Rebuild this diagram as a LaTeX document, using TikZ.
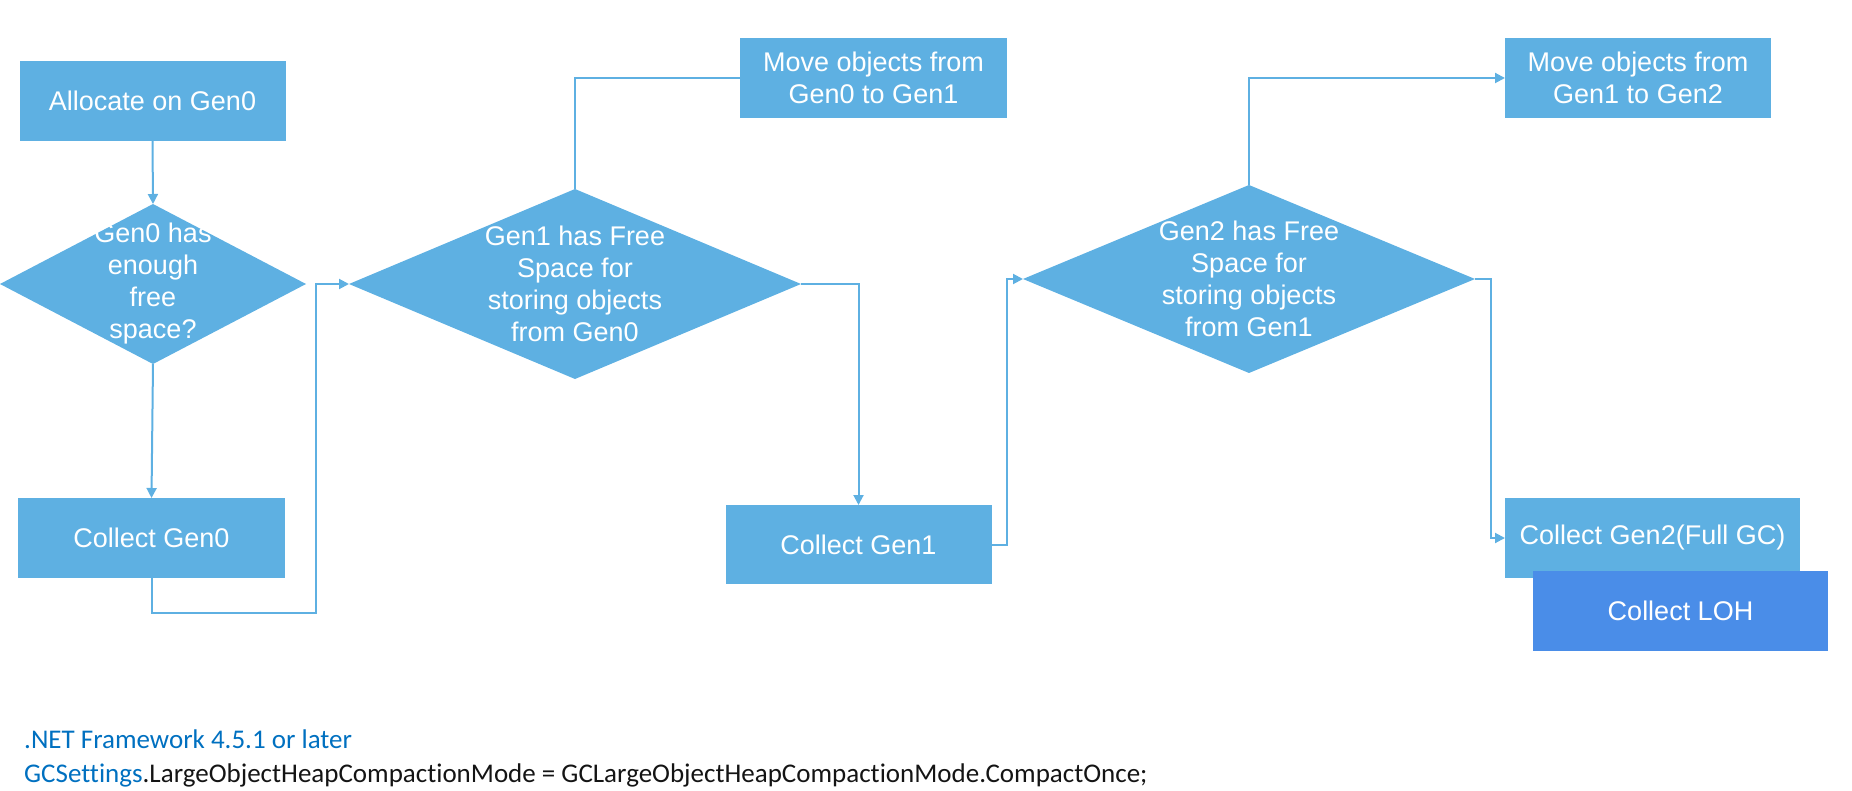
\documentclass[tikz,border=0pt]{standalone}
\usepackage{fontspec}
\setmainfont{Liberation Sans}
\newfontfamily\calib[Ligatures=NoCommon]{Carlito}
\usetikzlibrary{arrows.meta,shapes.geometric,backgrounds}
\definecolor{boxblue}{RGB}{94,176,226}
\definecolor{lohblue}{RGB}{74,141,232}
\definecolor{netblue}{RGB}{0,112,192}
\definecolor{codeblack}{RGB}{20,20,20}
\begin{document}
\begin{tikzpicture}[x=1pt,y=-1pt,
 box/.style={rectangle,fill=boxblue,text=white,inner sep=0pt,outer sep=0pt,minimum width=266pt,minimum height=80pt,align=center,font=\fontsize{27}{32}\selectfont},
 dia/.style={diamond,fill=boxblue,inner sep=0pt,outer sep=0pt,minimum width=452pt,minimum height=190pt},
 dlbl/.style={text=white,align=center,inner sep=0pt,font=\fontsize{27}{32}\selectfont},
 arr/.style={draw=boxblue,line width=2pt,-{Triangle[length=10pt,width=10pt]}},
 note/.style={anchor=base west,inner sep=0pt,font=\calib\fontsize{27}{33}\selectfont}]
\useasboundingbox (0,0) rectangle (1852,791);

% decisions
\node[dia,minimum width=306pt,minimum height=160pt,label={[dlbl]center:{Gen0 has\\enough\\free\\space?}}] (d1) at (153,284) {};
\node[dia,label={[dlbl]center:{Gen1 has Free\\Space for\\storing objects\\from Gen0}}] (d2) at (575,284) {};
\node[dia,minimum height=188pt,label={[dlbl]center:{Gen2 has Free\\Space for\\storing objects\\from Gen1}}] (d3) at (1249,279) {};

% boxes
\node[box] (alloc) at (152.5,101) {Allocate on Gen0};
\node[box,minimum width=267pt] (col0) at (151.5,538) {Collect Gen0};
\node[box,minimum width=267pt] (move1) at (873.5,78) {Move objects from\\Gen0 to Gen1};
\node[box,minimum height=79pt] (col1) at (858.5,544.5) {Collect Gen1};
\node[box] (move2) at (1638,78) {Move objects from\\Gen1 to Gen2};
\node[box,minimum width=295pt] (col2) at (1652.5,538) {Collect Gen2(Full GC)};
\node[box,minimum width=295pt,fill=lohblue] (loh) at (1680.5,611) {Collect LOH};

% junction points
\coordinate (j1) at (316,613);
\coordinate (j2) at (1007,400);
\coordinate (j3) at (1491,400);
\coordinate (m1in) at (837,78);

% connectors
\begin{pgfonlayer}{background}
\draw[arr] (d2.north) |- (m1in);
\end{pgfonlayer}
\draw[arr] (alloc.south) -- (d1.north);
\draw[arr] (d1.south) -- (col0.north);
\draw[arr] (col0.south) |- (j1) |- (d2.west);
\draw[arr] (d2.east) -| (col1.north);
\draw[arr] (col1.east) -| (j2) |- (d3.west);
\draw[arr] (d3.north) |- (move2.west);
\draw[arr] (d3.east) -| (j3) |- (col2.west);

% notes
\node[note,text=netblue] (fw) at (24,748) {.NET Framework 4.5.1 or later};
\node[note,text=codeblack] (code) at (24,782) {\textcolor{netblue}{GCSettings}.LargeObjectHeapCompactionMode = GCLargeObjectHeapCompactionMode.CompactOnce;};
\end{tikzpicture}
\end{document}
